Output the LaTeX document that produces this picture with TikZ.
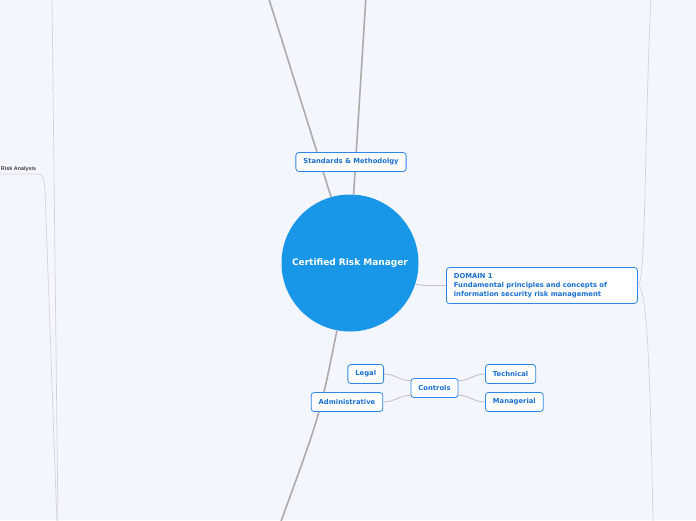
\documentclass[tikz,border=0pt]{standalone}
\usepackage{fontspec}
\setmainfont{DejaVu Sans}
\newfontfamily\smallsans{Liberation Sans}
\usepackage{xcolor}
\usetikzlibrary{positioning}
\definecolor{pagebg}{HTML}{F3F6FE}
\definecolor{hubblue}{HTML}{1896E8}
\definecolor{boxline}{HTML}{2E86E6}
\definecolor{boxtext}{HTML}{1A6FD2}
\definecolor{branch}{HTML}{ABABAB}
\definecolor{twig}{HTML}{C4C4C8}
\definecolor{faint}{HTML}{D3D4DA}

\begin{document}
\begin{tikzpicture}[
  x=1pt, y=-1pt,
  hub/.style={circle, fill=hubblue, text=white, minimum size=137pt, inner sep=0pt,
    font=\fontsize{9}{11}\selectfont\bfseries},
  topic/.style={draw=boxline, fill=white, line width=0.8pt, rounded corners=3pt,
    text=boxtext, minimum height=19pt, inner xsep=7.5pt, inner ysep=0pt,
    font=\fontsize{6.8}{9}\selectfont\bfseries},
  main/.style={draw=branch, line width=1.6pt},
  sub/.style={draw=twig, line width=0.9pt},
  thin/.style={draw=faint, line width=0.7pt}
]
\fill[pagebg] (0,0) rectangle (696,520);
\clip (0,0) rectangle (696,520);

% hub and loose ends
\node[hub] (crm) at (350,263) {Certified Risk Manager};
\coordinate (upA) at (268,-4);
\coordinate (upB) at (366,-4);
\coordinate (downA) at (280,524);
\coordinate (rtop) at (651,-4);
\coordinate (rbot) at (653,524);
\coordinate (ltop) at (52,-4);
\coordinate (lbot) at (58,524);
\coordinate (rabot) at (57,524);

\draw[main] (crm.106) -- (upA);
\draw[main] (crm.87) -- (upB);
\draw[main] (crm.259) .. controls (320,415) .. (downA);

% topics
\node[topic] (std) at (351,162) {Standards \& Methodolgy};
\node[topic, anchor=west, text width=176pt, align=left, minimum height=36pt] (dom1) at (446,285.5)
  {DOMAIN 1\\Fundamental principles and concepts of\\information security risk management};
\node[topic] (adm) at (347,402) {Administrative};
\node[topic, anchor=east] (legal) at (384,374) {Legal};
\node[topic] (ctrl) at (434.5,388) {Controls};
\node[topic, anchor=west] (tech) at (485,374) {Technical};
\node[topic, anchor=west] (mgr) at (485,402) {Managerial};

\draw[sub] (crm.-18) to[out=-10,in=180] (dom1.west);
\draw[sub] (legal.east) to[out=0,in=180] (ctrl.163);
\draw[sub] (adm.east) to[out=0,in=180] (ctrl.197);
\draw[sub] (ctrl.17) to[out=0,in=180] (tech.west);
\draw[sub] (ctrl.-17) to[out=0,in=180] (mgr.west);

% right edge
\draw[thin] (dom1.east) .. controls (646,285) and (644,150) .. (rtop);
\draw[thin] (dom1.east) .. controls (646,286) and (650,350) .. (rbot);

% left edge
\node[anchor=west, inner sep=0pt, text=black!75,
  font=\smallsans\fontsize{5.4}{7}\selectfont\bfseries] (risk) at (0.8,169.5) {Risk Analysis};
\draw[thin] (ltop) -- (lbot);
\draw[thin] (-5,174) -- (38,174) .. controls (43,174) and (44,178) .. (45,190) -- (rabot);
\end{tikzpicture}
\end{document}
